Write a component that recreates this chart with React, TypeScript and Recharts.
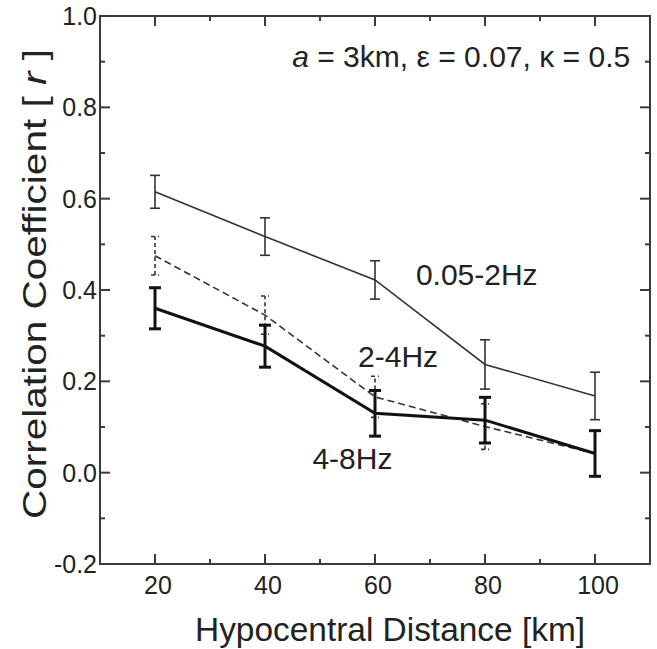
import React from "react"
import { ErrorBar, Line, LineChart, ReferenceDot, XAxis, YAxis } from "recharts"

// hypocentral distance [km]
const distances = [20, 40, 60, 80, 100]

// 0.05-2Hz
const lowBand = [0.615, 0.517, 0.422, 0.237, 0.168]
const lowBandErr = [0.036, 0.041, 0.042, 0.054, 0.052]
// 2-4Hz
const midBand = [0.475, 0.345, 0.166, 0.101, 0.042]
const midBandErr = [0.042, 0.042, 0.045, 0.05, 0.05]
// 4-8Hz
const highBand = [0.36, 0.277, 0.13, 0.115, 0.042]
const highBandErr = [0.045, 0.046, 0.05, 0.05, 0.05]

const xTicks = [10, 20, 30, 40, 50, 60, 70, 80, 90, 100, 110]
const yTicks = [-0.2, -0.1, 0, 0.1, 0.2, 0.3, 0.4, 0.5, 0.6, 0.7, 0.8, 0.9, 1.0]

const seriesLabels = [
  { text: "0.05-2Hz", x: 78.5, y: 0.433 },
  { text: "2-4Hz", x: 64.2, y: 0.254 },
  { text: "4-8Hz", x: 55.9, y: 0.032 },
]

const data = distances.map((d, i) => ({
  d,
  low: lowBand[i],
  lowErr: lowBandErr[i],
  mid: midBand[i],
  midErr: midBandErr[i],
  high: highBand[i],
  highErr: highBandErr[i],
}))

const X_DOMAIN = [10, 110]
const Y_DOMAIN = [-0.2, 1.0]

const W = 657
const H = 649
const MARGIN = { top: 16, right: 7, bottom: 0, left: 0 }
const X_AXIS_H = 85
const Y_AXIS_W = 100
const PLOT_X = MARGIN.left + Y_AXIS_W
const PLOT_Y = MARGIN.top
const PLOT_W = W - MARGIN.left - MARGIN.right - Y_AXIS_W
const PLOT_H = H - MARGIN.top - MARGIN.bottom - X_AXIS_H

const FONT = "'Liberation Sans', Arial, sans-serif"
const INK = "#222"
const FRAME = "#3a3a3a"

const isMajorX = (v: number) => v % 20 === 0 && v >= 20 && v <= 100
const isMajorY = (v: number) => Math.round(v * 10) % 2 === 0

const px = (v: number) => PLOT_X + ((v - X_DOMAIN[0]) / (X_DOMAIN[1] - X_DOMAIN[0])) * PLOT_W
const py = (v: number) => PLOT_Y + ((Y_DOMAIN[1] - v) / (Y_DOMAIN[1] - Y_DOMAIN[0])) * PLOT_H

function BottomTick({ x, y, payload }: any) {
  if (!isMajorX(payload.value)) return <g />
  return (
    <text x={x + 3} y={y + 30} textAnchor="middle" fontSize={25} fill={INK} fontFamily={FONT}>
      {payload.value}
    </text>
  )
}

function LeftTick({ x, y, payload }: any) {
  if (!isMajorY(payload.value)) return <g />
  return (
    <text x={x - 3} y={y + 9} textAnchor="end" fontSize={25} fill={INK} fontFamily={FONT}>
      {(payload.value as number).toFixed(1)}
    </text>
  )
}

// box frame with inward ticks on all four sides
function Frame() {
  const bottom = PLOT_Y + PLOT_H
  const right = PLOT_X + PLOT_W
  return (
    <svg
      width={W}
      height={H}
      style={{ position: "absolute", left: 0, top: 0, pointerEvents: "none" }}
    >
      <rect x={PLOT_X} y={PLOT_Y} width={PLOT_W} height={PLOT_H} fill="none" stroke={FRAME} strokeWidth={2} />
      {xTicks.map((v) => {
        const len = isMajorX(v) ? 10 : 5
        const x = px(v)
        return (
          <g key={`x${v}`}>
            <path d={`M${x},${bottom}V${bottom - len}`} stroke={FRAME} strokeWidth={2} />
            <path d={`M${x},${PLOT_Y}V${PLOT_Y + len}`} stroke={FRAME} strokeWidth={2} />
          </g>
        )
      })}
      {yTicks.map((v) => {
        const len = isMajorY(v) ? 10 : 5
        const y = py(v)
        return (
          <g key={`y${v}`}>
            <path d={`M${PLOT_X},${y}H${PLOT_X + len}`} stroke={FRAME} strokeWidth={2} />
            <path d={`M${right},${y}H${right - len}`} stroke={FRAME} strokeWidth={2} />
          </g>
        )
      })}
    </svg>
  )
}

export default function App() {
  return (
    <div style={{ position: "absolute", left: 0, top: 0, width: W, height: H, background: "#fff" }}>
      <LineChart width={W} height={H} data={data} margin={MARGIN}>
        <XAxis
          type="number"
          dataKey="d"
          domain={X_DOMAIN}
          ticks={xTicks}
          interval={0}
          height={X_AXIS_H}
          tickSize={0}
          tickMargin={0}
          tickLine={false}
          axisLine={false}
          tick={<BottomTick />}
          label={({ viewBox }: any) => (
            <text
              x={viewBox.x + viewBox.width / 2 + 15}
              y={641}
              textAnchor="middle"
              fontSize={33}
              textLength={390}
              lengthAdjust="spacingAndGlyphs"
              fill={INK}
              fontFamily={FONT}
            >
              Hypocentral Distance [km]
            </text>
          )}
        />
        <YAxis
          type="number"
          domain={Y_DOMAIN}
          ticks={yTicks}
          interval={0}
          width={Y_AXIS_W}
          tickSize={0}
          tickMargin={0}
          tickLine={false}
          axisLine={false}
          tick={<LeftTick />}
          label={({ viewBox }: any) => {
            const cx = 34
            const cy = viewBox.y + viewBox.height / 2 - 6
            return (
              <text
                x={cx}
                y={cy}
                transform={`rotate(-90 ${cx} ${cy})`}
                textAnchor="middle"
                dominantBaseline="central"
                fontSize={34}
                textLength={470}
                lengthAdjust="spacingAndGlyphs"
                fill={INK}
                fontFamily={FONT}
              >
                Correlation Coefficient [ <tspan fontStyle="italic">r</tspan> ]
              </text>
            )
          }}
        />

        <Line type="linear" dataKey="low" stroke="#333" strokeWidth={1.6} dot={false} isAnimationActive={false}>
          <ErrorBar dataKey="lowErr" width={5} stroke="#333" strokeWidth={1.6} isAnimationActive={false} />
        </Line>
        <Line
          type="linear"
          dataKey="mid"
          stroke="#333"
          strokeWidth={1.6}
          strokeDasharray="7 4"
          dot={false}
          isAnimationActive={false}
        >
          <ErrorBar
            dataKey="midErr"
            width={4}
            stroke="#333"
            strokeWidth={1.6}
            strokeDasharray="4 3"
            isAnimationActive={false}
          />
        </Line>
        <Line type="linear" dataKey="high" stroke="#111" strokeWidth={3} dot={false} isAnimationActive={false}>
          <ErrorBar dataKey="highErr" width={6} stroke="#111" strokeWidth={3} isAnimationActive={false} />
        </Line>

        {seriesLabels.map((s) => (
          <ReferenceDot
            key={s.text}
            x={s.x}
            y={s.y}
            r={0}
            fill="none"
            stroke="none"
            label={({ viewBox }: any) => (
              <text
                x={viewBox.x + (viewBox.width || 0) / 2}
                y={viewBox.y + (viewBox.height || 0) / 2}
                textAnchor="middle"
                dominantBaseline="central"
                fontSize={30}
                fill={INK}
                fontFamily={FONT}
              >
                {s.text}
              </text>
            )}
          />
        ))}

        <ReferenceDot
          x={106.4}
          y={0.91}
          r={0}
          fill="none"
          stroke="none"
          label={({ viewBox }: any) => (
            <text
              x={viewBox.x}
              y={viewBox.y}
              textAnchor="end"
              dominantBaseline="central"
              fontSize={29}
              textLength={338}
              lengthAdjust="spacingAndGlyphs"
              fill={INK}
              fontFamily={FONT}
            >
              <tspan fontStyle="italic">a</tspan> = 3km, ε = 0.07, κ = 0.5
            </text>
          )}
        />
      </LineChart>
      <Frame />
    </div>
  )
}
